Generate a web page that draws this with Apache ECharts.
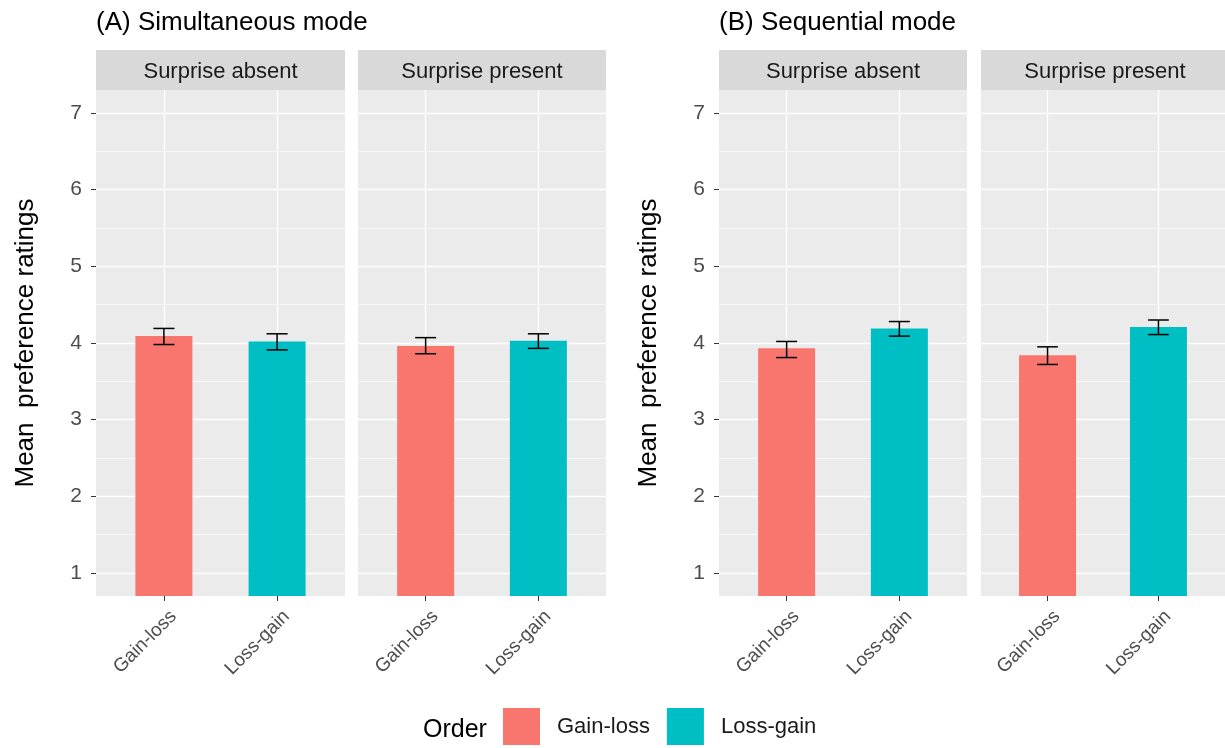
<!DOCTYPE html>
<html>
<head>
<meta charset="utf-8">
<script src="https://cdn.jsdelivr.net/npm/echarts@6/dist/echarts.min.js"></script>
<style>html,body{margin:0;padding:0;background:#fff}#c{width:1225px;height:748px}</style>
</head>
<body>
<div id="c"></div>
<script>
// ---- data ----
const categories = ['Gain-loss', 'Loss-gain'];
const panelTitles = ['(A) Simultaneous mode', '(B) Sequential mode'];
const facetLabels = ['Surprise absent', 'Surprise present', 'Surprise absent', 'Surprise present'];
const yTicks = [1, 2, 3, 4, 5, 6, 7];
const yMinor = [1.5, 2.5, 3.5, 4.5, 5.5, 6.5];
const xPositions = [1, 2];
// mean ratings [Gain-loss, Loss-gain] per facet
const meanA_absent  = [4.09, 4.02];
const meanA_present = [3.96, 4.03];
const meanB_absent  = [3.93, 4.19];
const meanB_present = [3.84, 4.21];
// error bar lower / upper
const lowA_absent  = [3.98, 3.91];
const highA_absent = [4.19, 4.12];
const lowA_present  = [3.86, 3.93];
const highA_present = [4.07, 4.12];
const lowB_absent  = [3.81, 4.09];
const highB_absent = [4.02, 4.28];
const lowB_present  = [3.72, 4.11];
const highB_present = [3.95, 4.30];

const means = [meanA_absent, meanA_present, meanB_absent, meanB_present];
const lows = [lowA_absent, lowA_present, lowB_absent, lowB_present];
const highs = [highA_absent, highA_present, highB_absent, highB_present];

// ---- layout / style ----
const FONT = '"Liberation Sans", Arial, sans-serif';
const colors = ['#F8766D', '#00BFC4'];
const gridTop = 90, gridHeight = 506;
const gridLefts = [96, 358, 719, 981];
const gridWidths = [249, 248, 248, 248];

const chart = echarts.init(document.getElementById('c'));

const grids = [], xAxes = [], yAxes = [], series = [], graphics = [];
for (let g = 0; g < 4; g++) {
  grids.push({left: gridLefts[g], top: gridTop, width: gridWidths[g], height: gridHeight,
    show: true, backgroundColor: '#EBEBEB', borderWidth: 0, containLabel: false});
  xAxes.push({type: 'value', gridIndex: g, min: 0.4, max: 2.6,
    axisLine: {show: false}, splitLine: {show: false},
    axisTick: {show: true, customValues: xPositions, length: 5, lineStyle: {color: '#333', width: 1}},
    axisLabel: {show: true, customValues: xPositions, rotate: 45, margin: 8,
      verticalAlign: 'top', lineHeight: 27,
      formatter: v => categories[Math.round(v) - 1], fontSize: 19, color: '#4D4D4D', fontFamily: FONT}});
  const showY = (g === 0 || g === 2);
  yAxes.push({type: 'value', gridIndex: g, min: 0.7, max: 7.3,
    axisLine: {show: false}, splitLine: {show: false},
    axisTick: {show: showY, customValues: yTicks, length: 5, lineStyle: {color: '#333', width: 1}},
    axisLabel: {show: showY, customValues: yTicks, margin: 14, fontSize: 21, color: '#4D4D4D', fontFamily: FONT},
    name: showY ? 'Mean  preference ratings' : '', nameLocation: 'middle', nameGap: 57,
    nameTextStyle: {fontSize: 26, color: '#000', fontFamily: FONT}});
  // gridlines
  const mlData = [];
  yTicks.forEach(v => mlData.push({yAxis: v, lineStyle: {width: 1.3}}));
  yMinor.forEach(v => mlData.push({yAxis: v, lineStyle: {width: 0.6}}));
  xPositions.forEach(v => mlData.push({xAxis: v, lineStyle: {width: 1.3}}));
  series.push({type: 'line', xAxisIndex: g, yAxisIndex: g, data: [], silent: true,
    markLine: {z: 1, silent: true, symbol: 'none', label: {show: false}, animation: false,
      lineStyle: {color: '#FFFFFF', type: 'solid'}, data: mlData}});
  // bars
  for (let k = 0; k < 2; k++) {
    series.push({type: 'bar', name: categories[k], xAxisIndex: g, yAxisIndex: g, z: 2,
      barWidth: 57, barGap: '-100%', itemStyle: {color: colors[k]},
      data: [[xPositions[k], means[g][k]]]});
  }
  // error bars
  series.push({type: 'custom', xAxisIndex: g, yAxisIndex: g, z: 3,
    encode: {x: 0, y: [1, 2]},
    data: xPositions.map((x, k) => [x, lows[g][k], highs[g][k]]),
    renderItem: function (params, api) {
      const x = api.value(0), lo = api.value(1), hi = api.value(2);
      const pH = api.coord([x, hi]), pL = api.coord([x, lo]);
      const half = api.size([0.093, 0])[0];
      const st = {stroke: '#000', lineWidth: 1.5};
      return {type: 'group', children: [
        {type: 'line', shape: {x1: pH[0], y1: pH[1], x2: pL[0], y2: pL[1]}, style: st},
        {type: 'line', shape: {x1: pH[0] - half, y1: pH[1], x2: pH[0] + half, y2: pH[1]}, style: st},
        {type: 'line', shape: {x1: pL[0] - half, y1: pL[1], x2: pL[0] + half, y2: pL[1]}, style: st}
      ]};
    }});
  // strips
  graphics.push({type: 'rect', left: gridLefts[g], top: 50, shape: {width: gridWidths[g], height: 40},
    style: {fill: '#D9D9D9'}, z: 0});
  graphics.push({type: 'text', x: gridLefts[g] + gridWidths[g] / 2, y: 72,
    style: {text: facetLabels[g], fill: '#1A1A1A', font: '22px ' + FONT, textAlign: 'center', textVerticalAlign: 'middle'}});
}
graphics.push({type: 'text', x: 423, y: 730,
  style: {text: 'Order', fill: '#000', font: '25px ' + FONT, textAlign: 'left', textVerticalAlign: 'middle'}});

chart.setOption({
  animation: false,
  textStyle: {fontFamily: FONT},
  title: [
    {text: panelTitles[0], left: 96, top: 10, padding: 0, textStyle: {fontSize: 26, fontWeight: 'normal', color: '#000', fontFamily: FONT}},
    {text: panelTitles[1], left: 719, top: 10, padding: 0, textStyle: {fontSize: 26, fontWeight: 'normal', color: '#000', fontFamily: FONT}}
  ],
  legend: {data: categories, left: 503, top: 708, padding: 0, icon: 'rect', itemWidth: 37, itemHeight: 37, itemGap: 17,
    selectedMode: false,
    textStyle: {fontSize: 22, color: '#1A1A1A', fontFamily: FONT, padding: [0, 0, 0, 12]}},
  grid: grids, xAxis: xAxes, yAxis: yAxes, series: series, graphic: graphics
});
</script>
</body>
</html>
